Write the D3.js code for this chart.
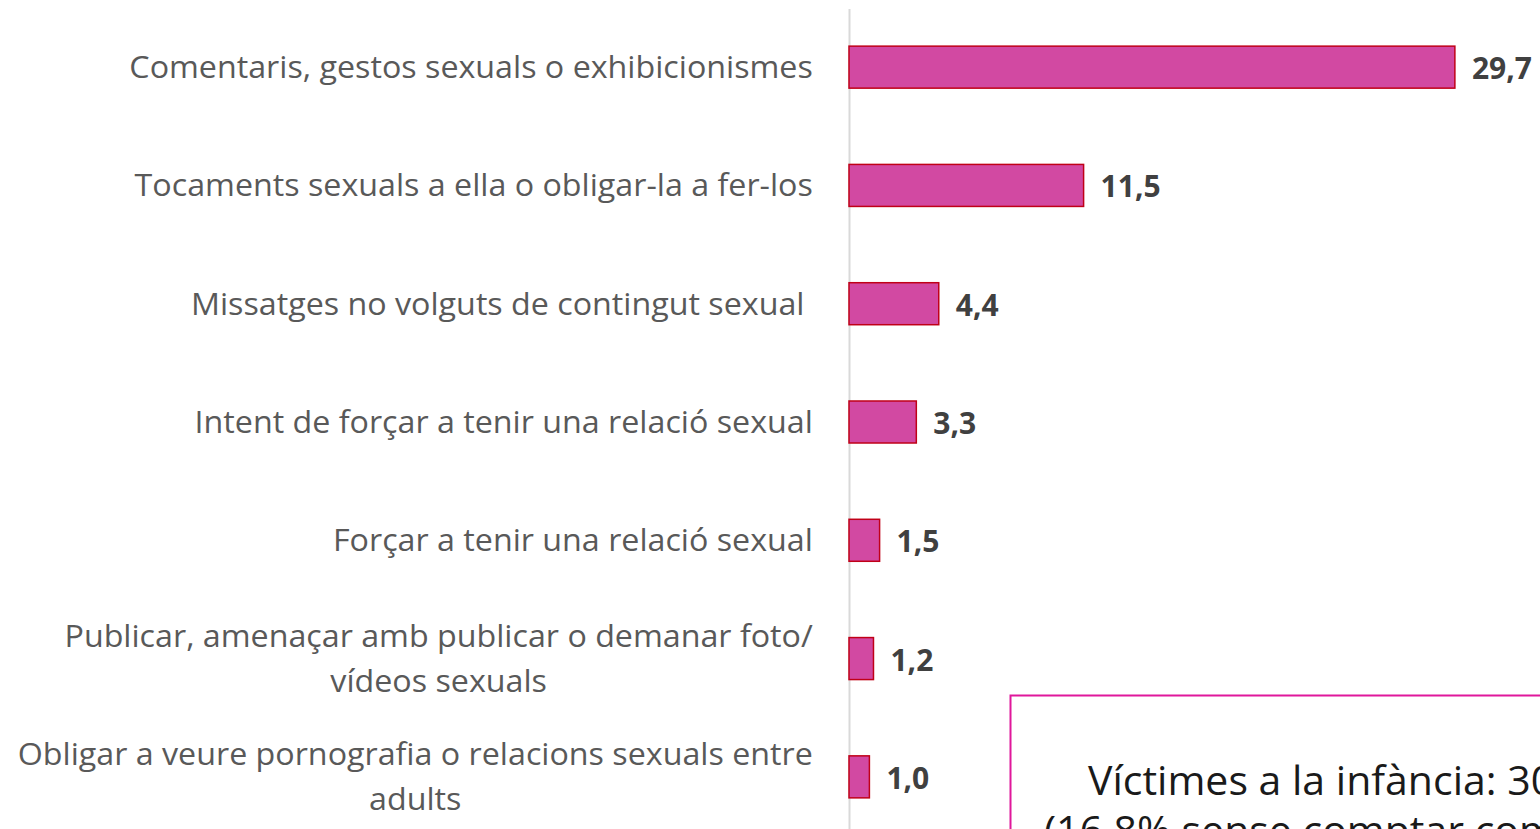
<!DOCTYPE html>
<html><head><meta charset="utf-8">
<script src="https://cdn.jsdelivr.net/npm/d3@7"></script>
<style>html,body{margin:0;padding:0;background:#fff;overflow:hidden}</style>
</head><body>
<svg id="chart" width="1540" height="829"></svg>
<script>
const categories = [
  ["Comentaris, gestos sexuals o exhibicionismes"],
  ["Tocaments sexuals a ella o obligar-la a fer-los"],
  ["Missatges no volguts de contingut sexual "],
  ["Intent de forçar a tenir una relació sexual"],
  ["Forçar a tenir una relació sexual"],
  ["Publicar, amenaçar amb publicar o demanar foto/", "vídeos sexuals"],
  ["Obligar a veure pornografia o relacions sexuals entre", "adults"]
];
const values = [29.7, 11.5, 4.4, 3.3, 1.5, 1.2, 1.0];
const valueLabels = ["29,7", "11,5", "4,4", "3,3", "1,5", "1,2", "1,0"];
const noteLines = ["Víctimes a la infància: 30,4%", "(16,8% sense comptar comentaris o gestos)"];

const svg = d3.select("#chart");
const FONT = "'Open Sans', 'Noto Sans', sans-serif";
const x = d3.scaleLinear().domain([0, 30]).range([849, 1461]);
const y = d3.scalePoint().domain(d3.range(categories.length)).range([8, 836]).padding(0.5);
const barH = 42;

// axis line
svg.append("line").attr("x1", 849.5).attr("x2", 849.5).attr("y1", 9).attr("y2", 829)
  .attr("stroke", "#d9d9d9").attr("stroke-width", 2);

// bars
svg.selectAll("rect.bar").data(values).join("rect").attr("class", "bar")
  .attr("x", x(0)).attr("y", (d, i) => y(i) - barH / 2)
  .attr("width", d => x(d) - x(0)).attr("height", barH)
  .attr("fill", "#D249A2").attr("stroke", "#C00018").attr("stroke-width", 1.5);

// value labels
svg.selectAll("text.val").data(values).join("text").attr("class", "val")
  .attr("x", d => x(d) + 17).attr("y", (d, i) => y(i) + 12)
  .attr("font-family", FONT).attr("font-weight", "bold").attr("font-size", 30)
  .attr("fill", "#404040").text((d, i) => valueLabels[i]);

// category labels
const sx = 1.04;
const labelRight = 813;
categories.forEach((lines, i) => {
  const g = svg.append("g");
  const lh = 45;
  const y0 = y(i) - (lines.length - 1) * lh / 2;
  const t = g.append("text").attr("font-family", FONT).attr("font-size", 31)
    .attr("fill", "#595959").attr("text-anchor", "middle").attr("xml:space", "preserve");
  lines.forEach((ln, j) => {
    t.append("tspan").attr("x", 0).attr("y", y0 + j * lh + 11).text(ln);
  });
  const w = d3.max(t.selectAll("tspan").nodes(), n => n.getComputedTextLength());
  g.attr("transform", `translate(${labelRight - w * sx / 2},0) scale(${sx},1)`);
});

// note box
svg.append("rect").attr("x", 1010.5).attr("y", 695.5).attr("width", 700).attr("height", 300)
  .attr("fill", "#fff").attr("stroke", "#E0179B").attr("stroke-width", 2);
const nt = svg.append("text").attr("font-family", FONT).attr("font-size", 41).attr("fill", "#1a1a1a")
  .attr("transform", "translate(1088,0)");
noteLines.forEach((ln, j) => nt.append("tspan").attr("x", j === 0 ? 0 : -44).attr("y", 795 + j * 50).text(ln));
</script>
</body></html>
